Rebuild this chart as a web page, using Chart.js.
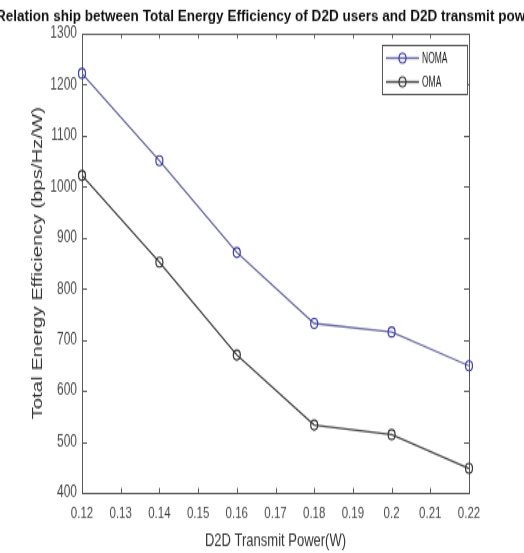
<!DOCTYPE html>
<html>
<head>
<meta charset="utf-8">
<script src="https://cdn.jsdelivr.net/npm/chart.js@4.4.0/dist/chart.umd.min.js"></script>
<style>
  html, body { margin: 0; padding: 0; background: #fff; overflow: hidden; }
  body { width: 524px; height: 553px; }
  /* the reference picture is squeezed sideways, so the chart is drawn short and stretched tall */
  #wrap { width: 524px; height: 395px; transform: scaleY(1.4); transform-origin: 0 0; }
</style>
</head>
<body>
<div id="wrap"><canvas id="chart" width="524" height="395"></canvas></div>
<script>
'use strict';

let power = [0.12, 0.14, 0.16, 0.18, 0.2, 0.22];
let nomaEE = [1222, 1051, 871, 732, 715, 649];
let omaEE = [1022, 852, 670, 533, 514, 448];
let seriesNames = ['NOMA', 'OMA'];

let xTicks = [0.12, 0.13, 0.14, 0.15, 0.16, 0.17, 0.18, 0.19, 0.2, 0.21, 0.22];
let xTickLabels = ['0.12', '0.13', '0.14', '0.15', '0.16', '0.17', '0.18', '0.19', '0.2', '0.21', '0.22'];
let yTicks = [400, 500, 600, 700, 800, 900, 1000, 1100, 1200, 1300];

let titleText = 'Relation ship between Total Energy Efficiency of D2D users and D2D transmit power';
let xTitle = 'D2D Transmit Power(W)';
let yTitle = 'Total Energy Efficiency (bps/Hz/W)';

let font = "'Liberation Sans', Arial, sans-serif";
let nomaLine = '#6b6ba3';
let nomaMark = '#3d3daa';
let omaLine = '#484848';
let omaMark = '#333333';
let frameColor = '#5a5a5a';

// MATLAB style box with inward ticks, legend inside the axes and the titles
let matlabFrame = {
  id: 'matlabFrame',
  beforeDatasetsDraw(chart) {
    let ctx = chart.ctx;
    let a = chart.chartArea;
    let xs = chart.scales.x;
    let ys = chart.scales.y;
    ctx.save();
    ctx.strokeStyle = frameColor;
    ctx.lineWidth = 1;
    ctx.strokeRect(a.left + 0.5, a.top + 0.5, a.right - a.left, a.bottom - a.top);
    ctx.beginPath();
    xTicks.forEach(v => {
      let px = Math.round(xs.getPixelForValue(v)) + 0.5;
      ctx.moveTo(px, a.bottom); ctx.lineTo(px, a.bottom - 3.5);
      ctx.moveTo(px, a.top); ctx.lineTo(px, a.top + 3.5);
    });
    yTicks.forEach(v => {
      let py = Math.round(ys.getPixelForValue(v)) + 0.5;
      ctx.moveTo(a.left, py); ctx.lineTo(a.left + 5, py);
      ctx.moveTo(a.right, py); ctx.lineTo(a.right - 5, py);
    });
    ctx.stroke();
    ctx.restore();
  },
  afterDatasetsDraw(chart) {
    let ctx = chart.ctx;
    let a = chart.chartArea;
    ctx.save();

    // legend
    let bx = a.right - 87, by = a.top + 8, bw = 85, bh = 35;
    ctx.fillStyle = '#fff';
    ctx.fillRect(bx, by, bw, bh);
    ctx.strokeStyle = frameColor;
    ctx.lineWidth = 1;
    ctx.strokeRect(bx + 0.5, by + 0.5, bw, bh);
    chart.data.datasets.forEach((ds, i) => {
      let cy = by + 9.5 + i * 17;
      ctx.strokeStyle = ds.borderColor;
      ctx.lineWidth = 1.3;
      ctx.beginPath();
      ctx.moveTo(bx + 4, cy); ctx.lineTo(bx + 37, cy);
      ctx.stroke();
      ctx.strokeStyle = ds.pointBorderColor;
      ctx.lineWidth = 1.2;
      ctx.beginPath();
      ctx.arc(bx + 20.5, cy, 3.5, 0, Math.PI * 2);
      ctx.stroke();
      ctx.fillStyle = '#222';
      ctx.font = '10px ' + font;
      ctx.textBaseline = 'middle';
      ctx.textAlign = 'left';
      ctx.save();
      ctx.translate(bx + 40, cy);
      ctx.scale(0.85, 1);
      ctx.fillText(ds.label, 0, 0.5);
      ctx.restore();
    });

    // main title, wider than the canvas like in the picture
    ctx.fillStyle = '#111';
    ctx.font = 'bold 11.5px ' + font;
    ctx.textBaseline = 'alphabetic';
    ctx.textAlign = 'left';
    let tw = ctx.measureText(titleText).width;
    ctx.save();
    ctx.translate(-4, 14.6);
    ctx.scale(542 / tw, 1);
    ctx.fillText(titleText, 0, 0);
    ctx.restore();

    // axis titles
    ctx.fillStyle = '#333';
    ctx.font = '13px ' + font;
    ctx.textAlign = 'center';
    ctx.textBaseline = 'middle';
    ctx.fillText(xTitle, (a.left + a.right) / 2, 386);

    ctx.font = '14.5px ' + font;
    ctx.translate(38, (a.top + a.bottom) / 2);
    ctx.rotate(-Math.PI / 2);
    ctx.fillText(yTitle, 0, 0);
    ctx.restore();
  }
};

let canvasElem = document.getElementById('chart');

let data = {
  datasets: [{
    label: seriesNames[0],
    data: power.map((p, i) => ({ x: p, y: nomaEE[i] })),
    borderColor: nomaLine,
    borderWidth: 1.3,
    pointBorderColor: nomaMark,
    pointBackgroundColor: 'rgba(0,0,0,0)',
    pointBorderWidth: 1.2,
    pointRadius: 3.5,
    tension: 0,
    clip: false
  }, {
    label: seriesNames[1],
    data: power.map((p, i) => ({ x: p, y: omaEE[i] })),
    borderColor: omaLine,
    borderWidth: 1.3,
    pointBorderColor: omaMark,
    pointBackgroundColor: 'rgba(0,0,0,0)',
    pointBorderWidth: 1.2,
    pointRadius: 3.5,
    tension: 0,
    clip: false
  }]
};

let config = {
  type: 'line',
  data: data,
  options: {
    responsive: false,
    animation: false,
    devicePixelRatio: 1,
    layout: { padding: { top: 24, right: 55, left: 0, bottom: 0 } },
    plugins: {
      legend: { display: false },
      title: { display: false },
      tooltip: { enabled: false }
    },
    scales: {
      x: {
        type: 'linear',
        min: 0.12,
        max: 0.22,
        afterBuildTicks: scale => { scale.ticks = xTicks.map(v => ({ value: v })); },
        afterFit: scale => { scale.height = 43; },
        grid: { display: false, drawTicks: false, tickLength: 0 },
        border: { display: false },
        ticks: {
          autoSkip: false,
          maxRotation: 0,
          padding: 8,
          color: '#4a4a4a',
          font: { family: font, size: 11.5 },
          callback: (v, i) => xTickLabels[i]
        }
      },
      y: {
        min: 400,
        max: 1300,
        afterBuildTicks: scale => { scale.ticks = yTicks.map(v => ({ value: v })); },
        afterFit: scale => { scale.width = 82; },
        grid: { display: false, drawTicks: false, tickLength: 0 },
        border: { display: false },
        ticks: {
          autoSkip: false,
          padding: 5,
          color: '#4a4a4a',
          font: { family: font, size: 12 },
          callback: v => String(v)
        }
      }
    }
  },
  plugins: [matlabFrame]
};

let myChart = new Chart(canvasElem, config);
</script>
</body>
</html>
